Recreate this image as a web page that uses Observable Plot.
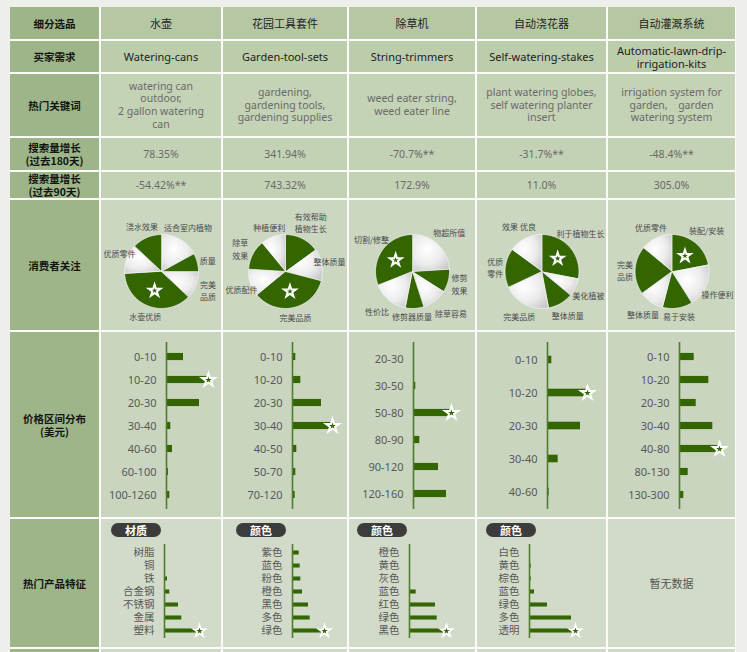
<!DOCTYPE html>
<html><head><meta charset="utf-8">
<script src="https://cdn.jsdelivr.net/npm/d3@7"></script>
<script src="https://cdn.jsdelivr.net/npm/@observablehq/plot@0.6"></script>
<style>
body{margin:0;background:#eeeeeb;}
#root{position:relative;width:747px;height:652px;overflow:hidden;font-family:"Noto Sans","Noto Sans CJK SC",sans-serif;}
.cell{position:absolute;display:flex;align-items:center;justify-content:center;text-align:center;box-sizing:border-box;white-space:pre-line;}
.hd{font-family:"Noto Sans CJK SC",sans-serif;font-weight:700;font-size:10.5px;color:#141414;line-height:13px;}
.t1{font-size:11px;color:#222;line-height:13px;}
.t2{font-size:10.5px;color:#6a6a6a;line-height:12.7px;}
.pill{position:absolute;top:4px;width:50px;height:14px;border-radius:7px;background:#3c3c3c;color:#fff;font-family:"Noto Sans CJK SC",sans-serif;font-weight:700;font-size:11px;line-height:14px;text-align:center;}
.cell svg{position:absolute;left:0;top:0;overflow:visible;}
</style></head>
<body>
<svg width="0" height="0" style="position:absolute"><defs>
<radialGradient id="sliceGrad" cx="40%" cy="40%" r="75%"><stop offset="0" stop-color="#ffffff"/><stop offset="0.55" stop-color="#ececec"/><stop offset="1" stop-color="#c6c6c6"/></radialGradient>
</defs></svg>
<div id="root"></div>
<script>
// ---------- data ----------
const rowHeaders = ["细分选品","买家需求","热门关键词","搜索量增长\n(过去180天)","搜索量增长\n(过去90天)","消费者关注","价格区间分布\n(美元)","热门产品特征",""];
const categories = ["水壶","花园工具套件","除草机","自动浇花器","自动灌溉系统"];
const buyerNeeds = ["Watering-cans","Garden-tool-sets","String-trimmers","Self-watering-stakes","Automatic-lawn-drip-\nirrigation-kits"];
const keywords = ["watering can\noutdoor,\n2 gallon watering\ncan","gardening,\ngardening tools,\ngardening supplies","weed eater string,\nweed eater line","plant watering globes,\nself watering planter\ninsert","irrigation system for\ngarden,　garden\nwatering system"];
const growth180 = ["78.35%","341.94%","-70.7%**","-31.7%**","-48.4%**"];
const growth90 = ["-54.42%**","743.32%","172.9%","11.0%","305.0%"];

const pieLabels = [
  ["适合室内植物","质量","完美\n品质","水壶优质","优质零件","浇水效果"],
  ["有效帮助\n植物生长","整体质量","完美品质","优质配件","除草\n效果","种植便利"],
  ["物超所值","修剪\n效果","除草容易","修剪器质量","性价比","切割/修整"],
  ["利于植物生长","美化植被","整体质量","完美品质","优质\n零件","效果 优良"],
  ["装配/安装","操作便利","易于安装","整体质量","完美\n品质","优质零件"]
];
const pieValues = [
  [17, 8, 12, 37, 13, 13],
  [15, 14, 35, 12, 13, 11],
  [24, 10, 11, 8, 16, 31],
  [28, 8, 11, 21, 17, 15],
  [22, 19, 13, 11, 21, 14]
];

const priceRanges = [
  ["0-10","10-20","20-30","30-40","40-60","60-100","100-1260"],
  ["0-10","10-20","20-30","30-40","40-50","50-70","70-120"],
  ["20-30","30-50","50-80","80-90","90-120","120-160"],
  ["0-10","10-20","20-30","30-40","40-60"],
  ["0-10","10-20","20-30","30-40","40-80","80-130","130-300"]
];
const priceShares = [
  [17, 42, 33, 4.3, 6, 2, 3.3],
  [3.3, 8.3, 29, 40, 4.3, 3.3, 2.7],
  [1, 2.3, 38, 6.3, 25, 33],
  [4.3, 40, 33, 10.7, 1.7],
  [14.7, 29.3, 16.7, 33.3, 40, 8.7, 4.3]
];

const featureTitles = ["材质","颜色","颜色","颜色"];
const featureLabels = [
  ["树脂","铜","铁","合金钢","不锈钢","金属","塑料"],
  ["紫色","蓝色","粉色","橙色","黑色","多色","绿色"],
  ["橙色","黄色","灰色","蓝色","红色","绿色","黑色"],
  ["白色","黄色","棕色","蓝色","绿色","多色","透明"]
];
const featureValues = [
  [1, 1, 3, 5.3, 14, 17.3, 35],
  [6.7, 7.7, 8.3, 10, 16, 17.7, 32],
  [1, 1, 1, 6.7, 26, 27.7, 37],
  [1, 1.7, 1.7, 5, 18, 42, 46]
];
const noDataText = "暂无数据";

// ---------- layout ----------
const colX = [10, 100, 222, 348, 476, 607, 736];
const rowY = [7, 40, 73, 137, 171, 199, 331, 518, 648, 664];
const rowBg = ["#b6c8a3","#bccdab","#c4d2b6","#c3d1b4","#c3d1b4","#ccd7c2","#cad5c0","#d2dbc9","#cfd9c5"];
const headBg = "#9db589";
const priceAxis = [65, 69, 64, 70, 71];
const featAxis = [63, 69, 60, 52];
const pillLeft = [10, 13, 8, 9];
const GREEN = "#336600";
const root = document.getElementById("root");

const grid = document.createElement("div");
Object.assign(grid.style, {position:"absolute", left:"10px", top:"7px", width:"726px", height:"660px", background:"#fbfbfa"});
root.appendChild(grid);

function cell(r, c) {
  const d = document.createElement("div");
  d.className = "cell";
  const x0 = colX[c] + (c === 0 ? 0 : 1), x1 = colX[c + 1] - 1;
  const y0 = rowY[r] + (r === 0 ? 0 : 1), y1 = rowY[r + 1] - 1;
  Object.assign(d.style, {left: x0 + "px", top: y0 + "px", width: (x1 - x0) + "px", height: (y1 - y0) + "px",
    background: c === 0 ? headBg : rowBg[r]});
  d._w = x1 - x0; d._h = y1 - y0;
  root.appendChild(d);
  return d;
}

function pieChart(labels, values, w, h) {
  const r = 37, cy = 71, fs = 8, lh = 12.4;
  const arcs = d3.pie().sort(null)(values);
  const top = d3.maxIndex(values);
  const pts = [];
  arcs.forEach((a, i) => {
    const green = (i % 2) === (top % 2);
    pts.push({i, green, x: 0, y: 0});
    const n = Math.ceil((a.endAngle - a.startAngle) / 0.02);
    for (let j = 0; j <= n; j++) {
      const t = a.startAngle + (a.endAngle - a.startAngle) * j / n;
      pts.push({i, green, x: Math.sin(t), y: Math.cos(t)});
    }
  });
  const xMax = w / 2 / r;
  const lab = arcs.map((a, i) => {
    const m = (a.startAngle + a.endAngle) / 2;
    const sx = Math.sin(m), sy = Math.cos(m);
    const lines = labels[i].split("\n");
    const hw = d3.max(lines, s => s.length) * fs / 2 / r;
    const hh = lines.length * lh / 2 / r;
    let t = 1.15;
    for (; t < 2.5; t += 0.02) {
      const cx = t * sx, cyy = t * sy;
      const px = Math.max(0, Math.abs(cx) - hw), py = Math.max(0, Math.abs(cyy) - hh);
      if (Math.hypot(px, py) >= 1.04) break;
    }
    return {label: labels[i], x: t * sx, y: t * sy, hw, hh: lines.length * (fs + 2) / 2 / r};
  });
  // simple horizontal collision relaxation
  for (let it = 0; it < 20; it++) {
    for (let a = 0; a < lab.length; a++) for (let b = a + 1; b < lab.length; b++) {
      const A = lab[a], B = lab[b];
      const ox = A.hw + B.hw + 3 / r - Math.abs(A.x - B.x);
      const oy = A.hh + B.hh - Math.abs(A.y - B.y);
      if (ox > 0 && oy > 0) {
        const s = A.x < B.x ? -1 : 1;
        A.x += s * ox / 2; B.x -= s * ox / 2;
      }
    }
    lab.forEach(L => { const lim = xMax - L.hw - 2 / r; L.x = Math.max(-lim, Math.min(lim, L.x)); });
  }
  const star = arcs.filter((a, i) => i === top).map(a => {
    const m = (a.startAngle + a.endAngle) / 2;
    return {x: 0.55 * Math.sin(m), y: 0.55 * Math.cos(m)};
  });
  return Plot.plot({
    width: w, height: h, margin: 0,
    style: {background: "transparent", fontFamily: "'Noto Sans CJK SC', sans-serif", overflow: "visible"},
    x: {domain: [-xMax, xMax], axis: null},
    y: {domain: [-(h - cy) / r, cy / r], axis: null},
    marks: [
      Plot.line(pts.filter(d => !d.green), {x: "x", y: "y", z: "i", fill: "url(#sliceGrad)", stroke: "#f4f4f4", strokeWidth: 0.8, curve: "linear-closed"}),
      Plot.line(pts.filter(d => d.green), {x: "x", y: "y", z: "i", fill: GREEN, stroke: "#f4f4f4", strokeWidth: 0.8, curve: "linear-closed"}),
      Plot.dot(star, {x: "x", y: "y", symbol: "star", r: 5.6, fill: "#fff"}),
      Plot.dot(star, {x: "x", y: "y", symbol: "star", r: 1.8, fill: GREEN}),
      Plot.text(lab, {x: "x", y: "y", text: "label", textAnchor: "middle", lineAnchor: "middle",
        fontSize: fs, fill: "#4a4a4a", lineHeight: lh / fs})
    ]
  });
}

function barChart(cats, vals, w, h, ml, mt, mb, barH, fontSize, font, starR, starIn) {
  const top = d3.maxIndex(vals);
  const data = cats.map((c, i) => ({c, v: vals[i]}));
  const inset = ((h - mt - mb) / cats.length - barH) / 2;
  return Plot.plot({
    width: w, height: h, marginLeft: ml, marginRight: 0, marginTop: mt, marginBottom: mb,
    style: {background: "transparent", fontSize: fontSize + "px", color: "#585858", fontFamily: font, overflow: "visible"},
    x: {domain: [0, 50], range: [ml, ml + 50], axis: null},
    y: {domain: cats, padding: 0, label: null, tickSize: 0, tickPadding: 10},
    marks: [
      Plot.barX(data, {x: "v", y: "c", fill: GREEN, insetTop: inset, insetBottom: inset}),
      Plot.ruleX([0], {stroke: "#4f7d2e", strokeWidth: 1.6}),
      Plot.dot([data[top]], {x: "v", y: "c", symbol: "star", r: starR, fill: "#fff"}),
      Plot.dot([data[top]], {x: "v", y: "c", symbol: "star", r: starIn, fill: GREEN})
    ]
  });
}

for (let r = 0; r < rowHeaders.length; r++) {
  const h = cell(r, 0);
  h.classList.add("hd");
  h.textContent = rowHeaders[r];
  for (let c = 1; c <= 5; c++) {
    const d = cell(r, c);
    const k = c - 1;
    if (r === 0) { d.classList.add("t1"); d.style.fontFamily = "'Noto Sans CJK SC',sans-serif"; d.textContent = categories[k]; }
    else if (r === 1) { d.classList.add("t1"); d.textContent = buyerNeeds[k]; }
    else if (r === 2) { d.classList.add("t2"); d.textContent = keywords[k]; }
    else if (r === 3) { d.classList.add("t2"); d.textContent = growth180[k]; }
    else if (r === 4) { d.classList.add("t2"); d.textContent = growth90[k]; }
    else if (r === 5) { d.appendChild(pieChart(pieLabels[k], pieValues[k], d._w, d._h)); }
    else if (r === 6) {
      d.appendChild(barChart(priceRanges[k], priceShares[k], d._w, d._h, priceAxis[k], 10, 8, 8, 11, "'Noto Sans', sans-serif", 6, 2.1));
    } else if (r === 7) {
      if (k < 4) {
        d.appendChild(barChart(featureLabels[k], featureValues[k], d._w, d._h, featAxis[k], 25, 9, 4.5, 10.5, "'Noto Sans CJK SC', sans-serif", 5.4, 2));
        const p = document.createElement("div");
        p.className = "pill"; p.style.left = pillLeft[k] + "px"; p.textContent = featureTitles[k];
        d.appendChild(p);
      } else {
        d.classList.add("t2"); d.style.fontFamily = "'Noto Sans CJK SC',sans-serif"; d.style.fontSize = "11px"; d.style.color = "#555";
        d.textContent = noDataText;
      }
    }
  }
}
</script>
</body></html>
